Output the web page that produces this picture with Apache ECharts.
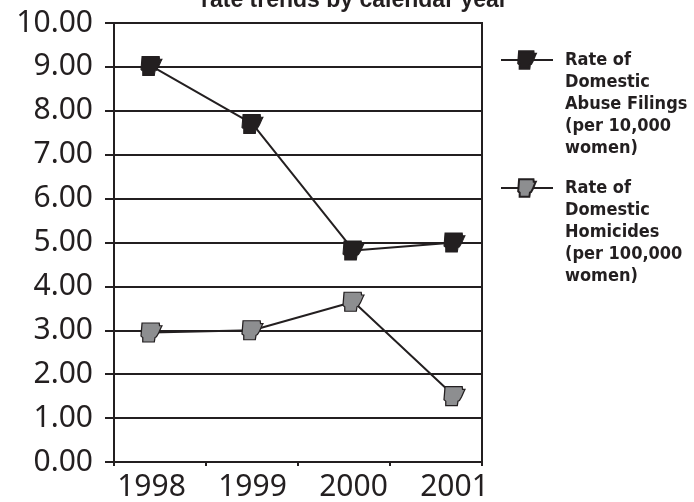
<!DOCTYPE html>
<html>
<head>
<meta charset="utf-8">
<script src="https://cdn.jsdelivr.net/npm/echarts@6/dist/echarts.min.js"></script>
<style>
  html, body { margin: 0; padding: 0; background: #fff; }
  #chart { width: 694px; height: 502px; }
</style>
</head>
<body>
<div id="chart"></div>
<script>
// data
var years = ['1998', '1999', '2000', '2001'];
var filings = [9.02, 7.70, 4.82, 5.00];
var homicides = [2.95, 3.00, 3.65, 1.50];
var yMin = 0, yMax = 10, yStep = 1;

var nameFilings = 'Rate of\nDomestic\nAbuse Filings\n(per 10,000\nwomen)';
var nameHomicides = 'Rate of\nDomestic\nHomicides\n(per 100,000\nwomen)';

var ink = '#231f20';
// little Arkansas outline used as marker
var arkansas = 'path://M3,0 L52,0 L53,8 L60,8 L57,14 L50,30 L44,40 L40,42 L38,55 L5,55 L5,42 L0,38 Z';

var legendText = {
  fontFamily: 'Liberation Sans Narrow, DejaVu Sans Condensed, sans-serif',
  fontWeight: 'bold',
  fontSize: 18,
  lineHeight: 22,
  color: ink,
  padding: [0, 0, 0, 7]
};
// text is centred on the icon, so pad with empty lines above to keep line 1 level with it
function legendFmt(name) {
  return '\n\n\n\n' + name;
}

var option = {
  backgroundColor: '#fff',
  animation: false,
  title: {
    text: 'rate trends by calendar year',
    left: 196,
    top: -16,
    textStyle: { fontFamily: 'Liberation Sans', fontWeight: 'bold', fontSize: 23, color: ink }
  },
  legend: [
    {
      data: [nameFilings], left: 500, top: -39, padding: 0,
      itemWidth: 52, itemHeight: 22, textStyle: legendText, formatter: legendFmt
    },
    {
      data: [nameHomicides], left: 500, top: 89, padding: 0,
      itemWidth: 52, itemHeight: 22, textStyle: legendText, formatter: legendFmt
    }
  ],
  grid: [
    { left: 114, right: 212, top: 23, bottom: 40, show: true, borderColor: ink, borderWidth: 2,
      containLabel: false, outerBoundsMode: 'none' },
    { left: 101, right: 189, top: 23, bottom: 40, containLabel: false, outerBoundsMode: 'none' }
  ],
  xAxis: [
    {
      gridIndex: 0, type: 'category', data: years,
      axisLine: { lineStyle: { color: ink, width: 2 } },
      axisTick: { show: true, length: 4, lineStyle: { color: ink, width: 2 } },
      axisLabel: { show: false },
      splitLine: { show: false }
    },
    {
      gridIndex: 1, type: 'category', data: years,
      axisLine: { show: false },
      axisTick: { show: false },
      axisLabel: { fontFamily: 'Noto Sans', fontSize: 30, color: ink, margin: 10 },
      splitLine: { show: false }
    }
  ],
  yAxis: [
    {
      gridIndex: 0, type: 'value', min: yMin, max: yMax, interval: yStep,
      axisLine: { show: true, lineStyle: { color: ink, width: 2 } },
      axisTick: { show: true, length: 9, lineStyle: { color: ink, width: 2 } },
      axisLabel: {
        fontFamily: 'Noto Sans', fontSize: 30, color: ink, margin: 21,
        formatter: function (v) { return v.toFixed(2); }
      },
      splitLine: { show: true, lineStyle: { color: ink, width: 2 } }
    },
    { gridIndex: 1, type: 'value', min: yMin, max: yMax, show: false }
  ],
  series: [
    {
      name: nameFilings, type: 'line', xAxisIndex: 1, yAxisIndex: 1,
      data: filings,
      symbol: arkansas, symbolSize: [21, 19],
      itemStyle: { color: ink, borderColor: ink, borderWidth: 1 },
      lineStyle: { color: ink, width: 2 }
    },
    {
      name: nameHomicides, type: 'line', xAxisIndex: 1, yAxisIndex: 1,
      data: homicides,
      symbol: arkansas, symbolSize: [21, 19],
      itemStyle: { color: '#8d8e90', borderColor: ink, borderWidth: 1.2 },
      lineStyle: { color: ink, width: 2 }
    }
  ]
};

var myChart = echarts.init(document.getElementById('chart'));
myChart.setOption(option);
window.addEventListener('resize', function () { myChart.resize(); });
</script>
</body>
</html>
